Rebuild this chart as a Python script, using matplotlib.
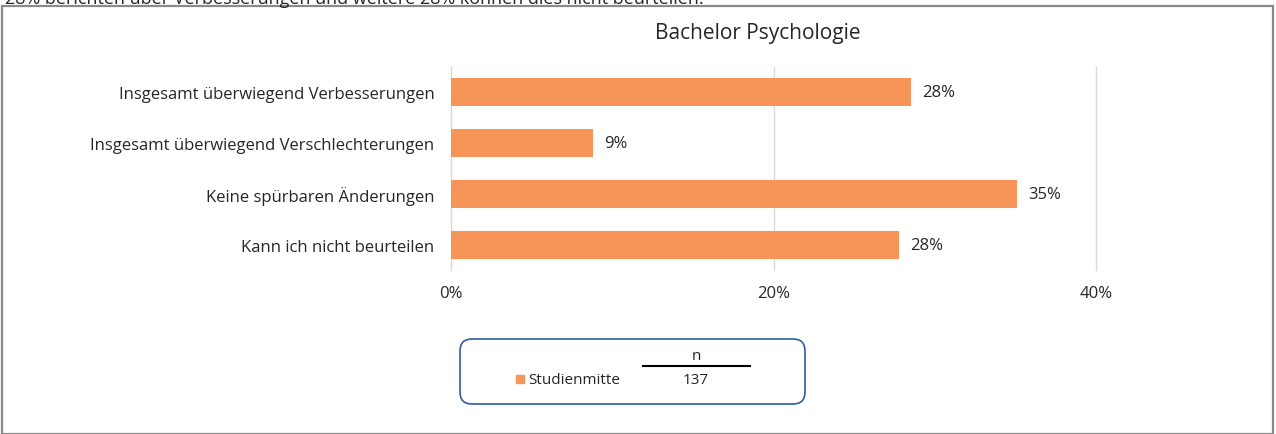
import matplotlib
matplotlib.use("Agg")
import matplotlib.pyplot as plt
from matplotlib.patches import Rectangle, FancyBboxPatch
from matplotlib.lines import Line2D

plt.rcParams["font.family"] = ["Open Sans", "DejaVu Sans"]

title = "Bachelor Psychologie"
intro = "28% berichten über Verbesserungen und weitere 28% können dies nicht beurteilen."
categories = ["Insgesamt überwiegend Verbesserungen",
              "Insgesamt überwiegend Verschlechterungen",
              "Keine spürbaren Änderungen",
              "Kann ich nicht beurteilen"]
values = [28.5, 8.8, 35.1, 27.8]
value_labels = ["28%", "9%", "35%", "28%"]
xticks = [0, 20, 40]
xtick_labels = ["0%", "20%", "40%"]
series_name = "Studienmitte"
n_value = 137

W, H = 1276, 435
bar_color = "#F79559"
text_color = "#262626"

fig = plt.figure(figsize=(W / 100, H / 100), dpi=100)

# outer frame (top part clipped like the source screenshot)
fig.patches.append(Rectangle((1.5 / W, 0), (1271 / W), 1 - 7 / H, transform=fig.transFigure,
                             fill=False, edgecolor="#8a8a8a", lw=1.6))
fig.text(5 / W, 1 - 4 / H, intro, fontsize=13, color=text_color, va="baseline", ha="left")

ax = fig.add_axes([451 / W, 1 - 271 / H, (1096 - 451) / W, (271 - 68) / H])
ypos = list(range(len(categories)))
ax.barh(ypos, values, height=0.55, color=bar_color, zorder=3)
for y, v, lab in zip(ypos, values, value_labels):
    ax.annotate(lab, (v, y), xytext=(8, 0), textcoords="offset points",
                va="center", ha="left", fontsize=12, color=text_color)
ax.set_xlim(0, 40)
ax.set_ylim(len(categories) - 0.5, -0.5)
ax.set_yticks(ypos)
ax.set_yticklabels(categories, fontsize=12, color=text_color)
ax.set_xticks(xticks)
ax.set_xticklabels(xtick_labels, fontsize=12, color=text_color)
ax.tick_params(axis="x", length=0, pad=11)
ax.tick_params(axis="y", length=0, pad=12)
ax.grid(axis="x", color="#D9D9D9", lw=1, zorder=0)
for gl in ax.get_xgridlines():
    gl.set_clip_on(False)
for s in ax.spines.values():
    s.set_visible(False)

fig.text(758 / W, 1 - 33 / H, title, fontsize=15, color=text_color, ha="center", va="center")

# legend box
fig.patches.append(FancyBboxPatch((460 / W, 1 - 405 / H), 345 / W, 65 / H,
                                  boxstyle="round,pad=0,rounding_size=%f" % (12 / W),
                                  transform=fig.transFigure, fill=False,
                                  edgecolor="#2F5E9E", lw=1.2, mutation_aspect=W / H))
fig.patches.append(Rectangle((516 / W, 1 - 384 / H), 8 / W, 8 / H, transform=fig.transFigure,
                             color=bar_color))
fig.text(528 / W, 1 - 380 / H, series_name, fontsize=11, color=text_color, va="center", ha="left")
fig.text(696 / W, 1 - 357 / H, "n", fontsize=11, color=text_color, va="center", ha="center")
fig.lines.append(Line2D([643 / W, 750 / W], [1 - 367 / H, 1 - 367 / H], transform=fig.transFigure,
                        color="black", lw=1.5))
fig.text(696 / W, 1 - 381 / H, str(n_value), fontsize=11, color=text_color, va="center", ha="center")

fig.savefig("out.png", dpi=100)
